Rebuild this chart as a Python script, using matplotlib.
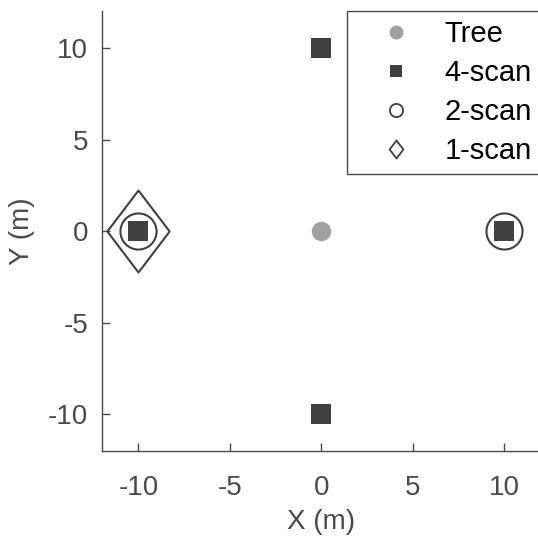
import numpy as np
import matplotlib.pyplot as plt
from matplotlib.path import Path
from matplotlib.lines import Line2D

plt.rcParams["font.family"] = ["Liberation Sans", "DejaVu Sans"]

# data
tree_x = [0]
tree_y = [0]
scan4_x = [0, 10, 0, -10]
scan4_y = [10, 0, -10, 0]
scan2_x = [10, -10]
scan2_y = [0, 0]
scan1_x = [-10]
scan1_y = [0]
ticks = [-10, -5, 0, 5, 10]
tick_labels = ["-10", "-5", "0", "5", "10"]
labels = ["Tree", "4-scan", "2-scan", "1-scan"]

gray = "#a0a0a0"
dark = "#404040"
axcol = "#4a4a4a"

# MATLAB style diamond (taller than wide)
diamond = Path([(0, 1), (0.76, 0), (0, -1), (-0.76, 0), (0, 1)],
               [Path.MOVETO, Path.LINETO, Path.LINETO, Path.LINETO, Path.CLOSEPOLY])

fig = plt.figure(figsize=(5.38, 5.37), dpi=100)
# right edge of the axes sits just past the picture edge, as in the reference
ax = fig.add_axes([0.1894, 0.160, 0.816, 0.8186])

ax.plot(tree_x, tree_y, "o", color=gray, markersize=14, markeredgewidth=0)
ax.plot(scan4_x, scan4_y, "s", color=dark, markersize=14.5, markeredgewidth=0)
ax.plot(scan2_x, scan2_y, "o", markerfacecolor="none", markeredgecolor=dark,
        markersize=26, markeredgewidth=1.5)
ax.plot(scan1_x, scan1_y, marker=diamond, linestyle="none", markerfacecolor="none",
        markeredgecolor=dark, markersize=59, markeredgewidth=1.5)

ax.set_xlim(-12, 12)
ax.set_ylim(-12, 12)
ax.set_xticks(ticks)
ax.set_xticklabels(tick_labels)
ax.set_yticks(ticks)
ax.set_yticklabels(tick_labels)
ax.spines["top"].set_visible(False)
ax.spines["right"].set_visible(False)
for s in ["left", "bottom"]:
    ax.spines[s].set_color(axcol)
    ax.spines[s].set_linewidth(1.0)
ax.tick_params(direction="in", length=6, width=1.0, colors=axcol, labelsize=20)
ax.tick_params(axis="x", pad=17)
ax.tick_params(axis="y", pad=10)
ax.set_xlabel("X (m)", fontsize=20, color=axcol, labelpad=6)
ax.set_ylabel("Y (m)", fontsize=20, color=axcol, labelpad=9)

handles = [
    Line2D([], [], linestyle="none", marker="o", color=gray, markersize=10, markeredgewidth=0),
    Line2D([], [], linestyle="none", marker="s", color=dark, markersize=9, markeredgewidth=0),
    Line2D([], [], linestyle="none", marker="o", markerfacecolor="none", markeredgecolor=dark,
           markersize=9.5, markeredgewidth=1.3),
    Line2D([], [], linestyle="none", marker=diamond, markerfacecolor="none", markeredgecolor=dark,
           markersize=13, markeredgewidth=1.3),
]
leg = ax.legend(handles, labels, loc="upper right", bbox_to_anchor=(1.0, 1.0),
                borderaxespad=0, fancybox=False, framealpha=1, fontsize=21,
                handlelength=2.76, handletextpad=0.28, labelspacing=0.38,
                borderpad=0.3)
leg.get_frame().set_edgecolor(axcol)
leg.get_frame().set_linewidth(1.0)

fig.savefig("out.png", dpi=100)
